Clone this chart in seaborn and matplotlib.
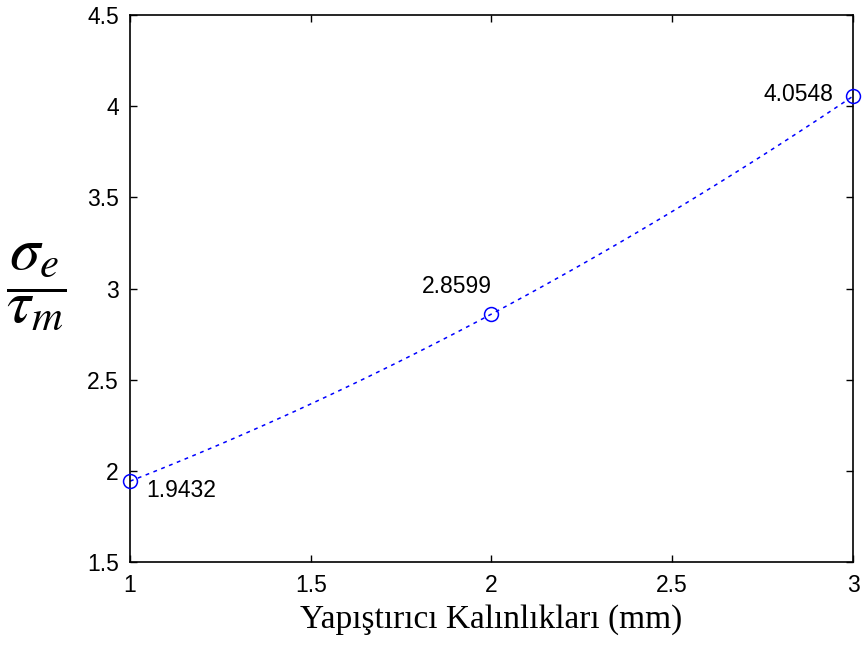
import matplotlib
matplotlib.use("Agg")
import matplotlib.pyplot as plt
import seaborn as sns
import pandas as pd

# Adhesive thickness (mm) and normalized stress ratio
thickness = [1, 2, 3]
ratio = [1.9432, 2.8599, 4.0548]
labels = ["1.9432", "2.8599", "4.0548"]

xticks = [1, 1.5, 2, 2.5, 3]
xticklabels = ["1", "1.5", "2", "2.5", "3"]
yticks = [1.5, 2, 2.5, 3, 3.5, 4, 4.5]
yticklabels = ["1.5", "2", "2.5", "3", "3.5", "4", "4.5"]

df = pd.DataFrame({"thickness": thickness, "ratio": ratio})

sns.set_theme(style="white")
plt.rcParams["font.family"] = ["Liberation Sans", "DejaVu Sans"]
plt.rcParams["mathtext.fontset"] = "stix"

fig = plt.figure(figsize=(8.65, 6.45), dpi=100)
ax = fig.add_axes([0.1503, 0.1287, 0.8358, 0.848])

# smooth dashed curve through the three points
sns.regplot(data=df, x="thickness", y="ratio", order=2, ci=None, scatter=False,
            truncate=True, ax=ax,
            line_kws=dict(color=(0, 0, 1), lw=1.1, linestyle=(0, (2.5, 3.0))))
# open circle markers
ax.plot(thickness, ratio, linestyle="none", marker="o", markersize=10,
        markerfacecolor="none", markeredgecolor=(0, 0, 1), markeredgewidth=1.1,
        clip_on=False, zorder=5)

offsets = [(12, -7, "left", "center"), (0, 20, "right", "center"), (-14, 1, "right", "center")]
for x, y, s, (dx, dy, ha, va) in zip(thickness, ratio, labels, offsets):
    ax.annotate(s, (x, y), xytext=(dx, dy), textcoords="offset points",
                ha=ha, va=va, fontsize=16.5, color="black")

ax.set_xlim(1, 3)
ax.set_ylim(1.5, 4.5)
ax.set_xticks(xticks)
ax.set_xticklabels(xticklabels)
ax.set_yticks(yticks)
ax.set_yticklabels(yticklabels)
ax.tick_params(direction="in", length=5, width=1, top=True, right=True,
               bottom=True, left=True, labelsize=16.5, colors="black")
ax.tick_params(axis="x", pad=9)
ax.tick_params(axis="y", pad=8)
for sp in ax.spines.values():
    sp.set_visible(True)
    sp.set_color("black")
    sp.set_linewidth(1.2)

ax.set_xlabel("Yapıştırıcı Kalınlıkları (mm)", fontsize=24, color="black",
              family=["Liberation Serif", "DejaVu Serif"], labelpad=5)
ax.set_ylabel("")
fig.text(0.042, 0.555, r"$\dfrac{\sigma_e}{\tau_m}$", fontsize=44,
         ha="center", va="center", color="black")

fig.savefig("out.png", dpi=100, facecolor="white")
